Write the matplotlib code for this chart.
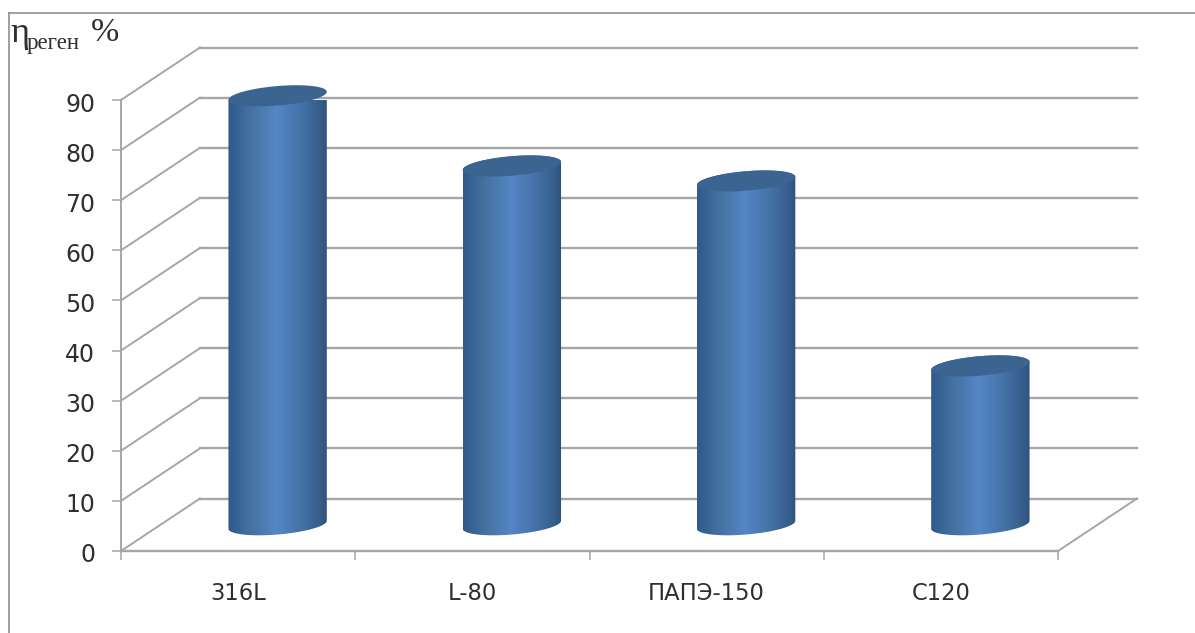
#!/usr/bin/env python3
"""Pseudo-3D cylinder chart of regeneration efficiency by membrane type."""

import matplotlib

matplotlib.use("Agg")
import matplotlib.pyplot as plt
import numpy as np
from matplotlib.colors import LinearSegmentedColormap
from matplotlib.lines import Line2D
from matplotlib.patches import Polygon
from matplotlib.transforms import ScaledTranslation

CATEGORIES = ["316L", "L-80", "ПАПЭ-150", "C120"]
VALUES = [85.6, 71.6, 68.6, 31.7]
Y_TICKS = [0, 10, 20, 30, 40, 50, 60, 70, 80, 90]

W, H = 1195, 633
PLOT_LEFT, PLOT_RIGHT, PLOT_TOP, PLOT_BOTTOM = 121, 1058, 100, 551
DEPTH_X = 79 / (PLOT_RIGHT - PLOT_LEFT) * len(CATEGORIES)
DEPTH_Y = 52.5 / (PLOT_BOTTOM - PLOT_TOP) * Y_TICKS[-1]

GRID = "#a6a6a6"
FRAME = "#8f8f8f"
INK = "#2f2f2f"
CAP = "#3c6491"
BODY = LinearSegmentedColormap.from_list(
    "body",
    [(0.0, "#2f5a8c"), (0.22, "#44719f"), (0.48, "#5586c6"), (0.72, "#4674aa"), (0.92, "#375f8d"), (1.0, "#30537c")],
)

HALF_W = 0.21
SEMI_B = 1.95
SHEAR = 0.8


def ellipse(cx, cy, t):
    # tilted rim: right end sits a little higher than the left one
    return cx + HALF_W * np.cos(t), cy + SEMI_B * np.sin(t) + SHEAR * np.cos(t)


def draw_walls(ax):
    n = len(CATEGORIES)
    for v in Y_TICKS:
        ax.plot([DEPTH_X, n + DEPTH_X], [v + DEPTH_Y] * 2, color=GRID, lw=1.7, clip_on=False, zorder=1)
        ax.plot([0, DEPTH_X], [v, v + DEPTH_Y], color=GRID, lw=1.4, clip_on=False, zorder=1)
    ax.plot([n, n + DEPTH_X], [0, DEPTH_Y], color=GRID, lw=1.4, clip_on=False, zorder=1)
    ax.plot([0, n], [0, 0], color=GRID, lw=1.7, clip_on=False, zorder=1)
    ax.plot([0, 0], [0, Y_TICKS[-1]], color=GRID, lw=1.4, clip_on=False, zorder=1)


def draw_cylinder(ax, i, value):
    cx = i + 0.5 + DEPTH_X / 2
    base = DEPTH_Y / 2
    top = value + base

    t_low = np.linspace(np.pi, 2 * np.pi, 60)
    t_high = np.linspace(0, np.pi, 60)
    bx, by = ellipse(cx, base, t_low)
    tx, ty = ellipse(cx, top, t_high)
    outline = np.column_stack([np.r_[bx, tx], np.r_[by, ty]])
    shape = Polygon(outline, closed=True, facecolor="none", edgecolor="none", transform=ax.transData)
    ax.add_patch(shape)

    img = ax.imshow(
        np.linspace(0, 1, 128)[None, :],
        cmap=BODY,
        aspect="auto",
        extent=(cx - HALF_W, cx + HALF_W, base - 4, top + 4),
        zorder=3,
    )
    img.set_clip_path(shape)

    t = np.linspace(0, 2 * np.pi, 120)
    ex, ey = ellipse(cx, top, t)
    ax.fill(ex, ey, color=CAP, lw=0, clip_on=False, zorder=4)


def main():
    plt.rcParams["font.family"] = "DejaVu Sans"
    fig = plt.figure(figsize=(W / 100, H / 100), dpi=100, facecolor="white")
    ax = fig.add_axes(
        [
            PLOT_LEFT / W,
            1 - PLOT_BOTTOM / H,
            (PLOT_RIGHT - PLOT_LEFT) / W,
            (PLOT_BOTTOM - PLOT_TOP) / H,
        ]
    )
    ax.patch.set_visible(False)
    for spine in ax.spines.values():
        spine.set_visible(False)

    draw_walls(ax)
    for i, value in enumerate(VALUES):
        draw_cylinder(ax, i, value)

    ax.set_xlim(0, len(CATEGORIES))
    ax.set_ylim(Y_TICKS[0], Y_TICKS[-1])

    ax.set_yticks(Y_TICKS)
    ax.set_yticklabels([str(v) for v in Y_TICKS], fontsize=17, color=INK)
    ax.tick_params(axis="y", length=6.5, width=1.1, color=GRID, pad=12)
    shift = ScaledTranslation(0, -2 / 100, fig.dpi_scale_trans)
    for label in ax.get_yticklabels():
        label.set_transform(label.get_transform() + shift)
    ax.set_xticks(np.arange(len(CATEGORIES) + 1))
    ax.set_xticklabels([])
    ax.tick_params(axis="x", length=6.5, width=1.1, color=GRID)
    for i, name in enumerate(CATEGORIES):
        ax.annotate(
            name,
            (i + 0.5, 0),
            xytext=(0, -35),
            textcoords="offset points",
            ha="center",
            va="baseline",
            fontsize=16.3,
            color=INK,
            annotation_clip=False,
        )

    # outer chart frame, open at the right and bottom
    frame_x, frame_y = 9 / W, 1 - 13 / H
    fig.add_artist(Line2D([frame_x, frame_x], [0, frame_y], color=FRAME, lw=1.2))
    fig.add_artist(Line2D([frame_x, 1], [frame_y, frame_y], color=FRAME, lw=1.2))

    fig.text(10 / W, 1 - 42 / H, "η", family="Liberation Serif", fontsize=26, color=INK, ha="left", va="baseline")
    fig.text(27 / W, 1 - 49 / H, "реген", family="Liberation Serif", fontsize=16.5, color=INK, ha="left", va="baseline")
    fig.text(91 / W, 1 - 41 / H, "%", family="Liberation Serif", fontsize=24.5, color=INK, ha="left", va="baseline")

    fig.savefig("out.png", dpi=100, facecolor="white")
    plt.close(fig)


if __name__ == "__main__":
    main()
